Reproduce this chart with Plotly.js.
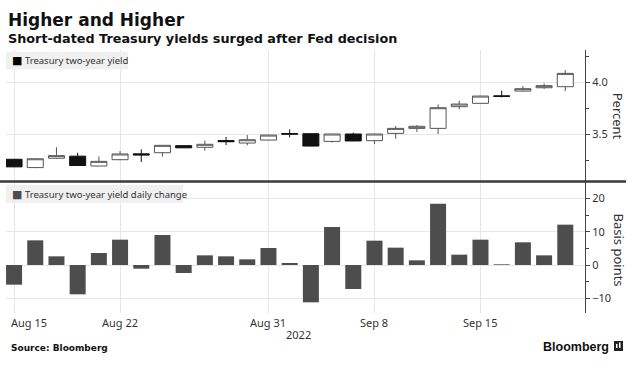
<!DOCTYPE html>
<html>
<head>
<meta charset="utf-8">
<script src="https://cdn.plot.ly/plotly-3.0.1.min.js"></script>
<style>html,body{margin:0;padding:0;background:#fff;}#chart{width:644px;height:388px;}</style>
</head>
<body>
<div id="chart"></div>
<script>
// ---- data ----
const dates = ['2022-08-15','2022-08-16','2022-08-17','2022-08-18','2022-08-19',
  '2022-08-22','2022-08-23','2022-08-24','2022-08-25','2022-08-26',
  '2022-08-29','2022-08-30','2022-08-31','2022-09-01','2022-09-02',
  '2022-09-06','2022-09-07','2022-09-08','2022-09-09',
  '2022-09-12','2022-09-13','2022-09-14','2022-09-15','2022-09-16',
  '2022-09-19','2022-09-20','2022-09-21'];
const openY  = [3.260,3.180,3.270,3.290,3.195,3.256,3.312,3.323,3.391,3.375,3.440,3.416,3.445,3.508,3.506,3.432,3.503,3.439,3.509,3.557,3.557,3.766,3.798,3.870,3.916,3.948,3.958];
const highY  = [3.262,3.270,3.375,3.323,3.288,3.339,3.356,3.397,3.393,3.439,3.474,3.493,3.495,3.548,3.508,3.505,3.516,3.505,3.580,3.589,3.788,3.823,3.870,3.920,3.964,3.990,4.118];
const lowY   = [3.185,3.175,3.263,3.198,3.193,3.250,3.234,3.285,3.368,3.343,3.397,3.394,3.443,3.471,3.385,3.420,3.434,3.407,3.458,3.522,3.503,3.740,3.796,3.855,3.910,3.936,3.916];
const closeY = [3.187,3.265,3.295,3.200,3.240,3.311,3.302,3.394,3.370,3.404,3.429,3.448,3.493,3.502,3.387,3.503,3.436,3.503,3.557,3.577,3.756,3.791,3.868,3.865,3.939,3.968,4.086];
const changeBp = [-5.9,7.4,2.6,-8.8,3.6,7.6,-1.1,9.0,-2.4,2.9,2.6,1.7,5.1,0.6,-11.2,11.4,-7.2,7.3,5.2,1.4,18.4,3.1,7.6,0.2,6.8,2.9,12.1];
const tickDates = ['2022-08-15','2022-08-22','2022-08-31','2022-09-08','2022-09-15'];
const tickLabels = ['Aug 15','Aug 22','Aug 31','Sep 8','Sep 15'];
const yearLabel = '2022';
const seriesTop = 'Treasury two-year yield';
const seriesBottom = 'Treasury two-year yield daily change';

// ---- helpers: pixel -> paper (plot area x 6..585, y 50..313) ----
const L = 6, R = 585, T = 50, B = 313;
const px = x => (x - L) / (R - L);
const py = y => (B - y) / (B - T);

const font = 'Noto Sans, DejaVu Sans, sans-serif';
const grid = '#e6e6e6';

const traces = [
  {
    type: 'candlestick', x: dates, open: openY, high: highY, low: lowY, close: closeY,
    xaxis: 'x', yaxis: 'y', showlegend: false, hoverinfo: 'skip', whiskerwidth: 0,
    increasing: {line: {color: '#555555', width: 1}, fillcolor: '#ffffff'},
    decreasing: {line: {color: '#111111', width: 1}, fillcolor: '#111111'}
  },
  {
    type: 'bar', x: dates, y: changeBp, xaxis: 'x', yaxis: 'y2', showlegend: false,
    hoverinfo: 'skip', marker: {color: '#4d4d4d', line: {width: 0}}
  }
];

const annotations = [
  {text: '<b>Higher and Higher</b>', x: px(6), y: py(20), xanchor: 'left', yanchor: 'middle',
   font: {family: 'DejaVu Sans', size: 17, color: '#111'}},
  {text: '<b>Short-dated Treasury yields surged after Fed decision</b>', x: px(6), y: py(38), xanchor: 'left', yanchor: 'middle',
   font: {family: 'DejaVu Sans', size: 12.8, color: '#111'}},
  {text: '<span style="font-family:DejaVu Sans;font-size:11px;color:#000">■</span> ' + seriesTop, x: px(10), y: py(60.5), xanchor: 'left', yanchor: 'middle',
   font: {family: font, size: 9.5, color: '#333'}},
  {text: '<span style="font-family:DejaVu Sans;font-size:11px;color:#4d4d4d">■</span> ' + seriesBottom, x: px(10), y: py(194), xanchor: 'left', yanchor: 'middle',
   font: {family: font, size: 9.5, color: '#333'}},
  {text: 'Percent', textangle: 90, x: px(618), y: py(115.7), xanchor: 'center', yanchor: 'middle',
   font: {family: font, size: 13, color: '#333'}},
  {text: 'Basis points', textangle: 90, x: px(619), y: py(249.5), xanchor: 'center', yanchor: 'middle',
   font: {family: font, size: 13, color: '#333'}},
  {text: yearLabel, x: px(299), y: py(334), xanchor: 'center', yanchor: 'middle',
   font: {family: font, size: 11, color: '#333'}},
  {text: '<b>Source: Bloomberg</b>', x: px(8.5), y: py(347.5), xanchor: 'left', yanchor: 'middle',
   font: {family: 'DejaVu Sans', size: 9, color: '#111'}},
  {text: '<b>Bloomberg</b>', x: px(611), y: py(346.5), xanchor: 'right', yanchor: 'middle',
   font: {family: 'Liberation Sans', size: 12.5, color: '#111'}}
];
tickDates.forEach((d, i) => {
  annotations.push({
    text: tickLabels[i], x: d, xref: 'x', y: py(322), yref: 'paper',
    xanchor: i === 0 ? 'left' : 'center', xshift: i === 0 ? -5 : 0, yanchor: 'middle',
    font: {family: font, size: 11, color: '#333'}, showarrow: false
  });
});
annotations.forEach(a => { if (!a.xref) { a.xref = 'paper'; a.yref = 'paper'; } a.showarrow = false; });

const shapes = [
  {type: 'rect', xref: 'paper', yref: 'paper', x0: px(6), x1: px(128), y0: py(69.3), y1: py(51.7),
   fillcolor: '#f0f0f0', line: {width: 0}, layer: 'above'},
  {type: 'rect', xref: 'paper', yref: 'paper', x0: px(6), x1: px(183), y0: py(203), y1: py(185),
   fillcolor: '#f0f0f0', line: {width: 0}, layer: 'above'},
  {type: 'line', xref: 'paper', yref: 'paper', x0: px(0), x1: px(626), y0: py(181.5), y1: py(181.5),
   line: {color: '#3a3a3a', width: 2.5}, layer: 'above'},
  {type: 'rect', xref: 'paper', yref: 'paper', x0: px(614), x1: px(623), y0: py(351), y1: py(341),
   fillcolor: '#222', line: {width: 0}},
  {type: 'rect', xref: 'paper', yref: 'paper', x0: px(616), x1: px(617.5), y0: py(348), y1: py(344),
   fillcolor: '#fff', line: {width: 0}},
  {type: 'rect', xref: 'paper', yref: 'paper', x0: px(619), x1: px(620.5), y0: py(348), y1: py(342.5),
   fillcolor: '#fff', line: {width: 0}}
];

const yCommon = {
  side: 'right', ticks: 'outside', ticklen: 4, tickcolor: '#444', tickwidth: 1,
  showline: true, linecolor: '#444', linewidth: 1, showgrid: true, gridcolor: grid, gridwidth: 1,
  tickfont: {family: font, size: 11, color: '#333'}, fixedrange: true, anchor: 'x'
};

const layout = {
  width: 644, height: 388,
  margin: {l: L, r: 644 - R, t: T, b: 388 - B, pad: 0},
  paper_bgcolor: '#fff', plot_bgcolor: '#fff',
  showlegend: false, bargap: 0.245, boxgap: 0.245, boxgroupgap: 0,
  xaxis: {
    type: 'category', categoryorder: 'array', categoryarray: dates,
    range: [-0.38, 26.93], tickvals: tickDates, ticktext: tickLabels, showticklabels: false,
    ticks: '', showgrid: true, gridcolor: grid, zeroline: false, showline: false,
    rangeslider: {visible: false}, anchor: 'y2', fixedrange: true
  },
  yaxis: Object.assign({}, yCommon, {
    domain: [py(181), 1], range: [3.051, 4.311], dtick: 0.5, tick0: 0, tickformat: '.1f',
    zeroline: false,
    minor: {dtick: 0.25, tick0: 0, ticks: 'outside', ticklen: 3, tickcolor: '#444', showgrid: false}
  }),
  yaxis2: Object.assign({}, yCommon, {
    domain: [0, py(182)], range: [-14.4, 24.9], dtick: 10, tick0: 0,
    zeroline: true, zerolinecolor: grid, zerolinewidth: 1,
    minor: {dtick: 5, tick0: 0, ticks: 'outside', ticklen: 3, tickcolor: '#444', showgrid: false}
  }),
  annotations: annotations,
  shapes: shapes
};

Plotly.newPlot('chart', traces, layout, {staticPlot: true, displayModeBar: false});
</script>
</body>
</html>
